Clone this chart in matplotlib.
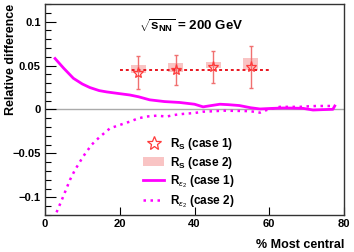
import matplotlib
matplotlib.use("Agg")
import matplotlib.pyplot as plt
from matplotlib.patches import Rectangle
from matplotlib.lines import Line2D
from matplotlib.ticker import MultipleLocator

plt.rcParams["font.family"] = ["Liberation Sans", "DejaVu Sans"]
plt.rcParams["mathtext.fontset"] = "custom"
plt.rcParams["mathtext.rm"] = "Liberation Sans"
plt.rcParams["mathtext.bf"] = "Liberation Sans:bold"
plt.rcParams["mathtext.it"] = "Liberation Sans:italic"

C_MAG = "#ff00ff"
C_STAR = "#ff3b3b"
C_ERR = "#f07070"
C_BOX = "#f9c4c4"
C_FIT = "#e8141e"

# R_S points (case 1 = stars with errors, case 2 = boxes)
cent = [25, 35, 45, 55]
rs1 = [0.042, 0.045, 0.0487, 0.0487]
rs1_err = [0.0185, 0.017, 0.018, 0.024]
rs2 = [0.046, 0.048, 0.0505, 0.0516]
rs2_err = [0.005, 0.0048, 0.003, 0.0065]
fit_x = [20, 60]
fit_y = [0.045, 0.045]

# R_eps2 case 1 (solid)
x1 = [2.7, 5, 7.6, 10, 12, 14.5, 16.5, 20, 22.7, 25, 28, 32, 36, 40, 42.3,
      44.5, 46.8, 49, 52, 55, 57.5, 60.5, 63.7, 66, 69, 71.7, 74, 77, 77.5]
y1 = [0.058, 0.047, 0.0355, 0.029, 0.025, 0.0215, 0.020, 0.018, 0.0165,
      0.0145, 0.011, 0.009, 0.008, 0.006, 0.003, 0.0045, 0.006, 0.0055,
      0.0045, 0.002, 0.0006, 0.0012, 0.0017, 0.0016, 0.0013, -0.0006,
      -0.0002, 0.0002, 0.004]

# R_eps2 case 2 (dotted)
x2 = [3.1, 4.5, 6.7, 8, 10.2, 12.5, 14.7, 17.4, 20, 22.7, 25, 27.2, 29.9,
      32.5, 35, 37, 40, 42.3, 45, 47.7, 50, 53, 55, 57.5, 59.3, 62.8, 65,
      68.2, 70, 72.6, 75, 77.5]
y2 = [-0.117, -0.103, -0.080, -0.069, -0.0536, -0.040, -0.031, -0.0214,
      -0.0176, -0.0138, -0.010, -0.008, -0.007, -0.008, -0.006, -0.005,
      -0.004, -0.0025, -0.002, -0.0013, -0.0015, -0.0017, -0.002, -0.0036,
      -0.0006, 0.003, 0.003, 0.003, 0.0035, 0.004, 0.004, 0.004]

fig = plt.figure(figsize=(3.54, 2.52), dpi=100)
ax = fig.add_axes([0.127, 0.147, 0.845, 0.837])

ax.axhline(0, color="#aaaaaa", lw=1.0, zorder=0)

# case 2 boxes
for c, v, e in zip(cent, rs2, rs2_err):
    ax.add_patch(Rectangle((c - 2, v - e), 4, 2 * e, facecolor=C_BOX,
                           edgecolor="none", zorder=1))

ax.plot(fit_x, fit_y, color=C_FIT, lw=1.4, ls=(0, (1.5, 1.5)), zorder=2)
ax.errorbar(cent, rs1, yerr=rs1_err, fmt="none", ecolor=C_ERR, elinewidth=1.0,
            capsize=1.5, capthick=1.0, zorder=3)
ax.plot(cent, rs1, ls="none", marker="*", ms=8, mfc="none", mec=C_STAR,
        mew=0.9, zorder=4)

ax.plot(x1, y1, color=C_MAG, lw=2.0, zorder=3)
ax.plot(x2, y2, color=C_MAG, lw=1.8, ls=(0, (1, 1.8)), zorder=3)

ax.set_xlim(0, 80)
ax.set_ylim(-0.12, 0.12)
ax.yaxis.set_minor_locator(MultipleLocator(0.01))
ax.set_yticks([-0.1, -0.05, 0, 0.05, 0.1])
ax.set_yticklabels(["\u22120.1", "\u22120.05", "0", "0.05", "0.1"])
ax.set_xticks([0, 20, 40, 60, 80])
ax.set_xticklabels(["0", "20", "40", "60", "80"])
ax.tick_params(axis="both", which="major", direction="in", length=8,
               width=0.8, labelsize=8, pad=3)
ax.tick_params(axis="y", which="minor", direction="in", length=4, width=0.8)
ax.tick_params(axis="x", which="major", length=6)
for lab in ax.get_xticklabels() + ax.get_yticklabels():
    lab.set_fontweight("bold")
for s in ax.spines.values():
    s.set_linewidth(1.0)
    s.set_color("#333333")

ax.set_ylabel("Relative difference", fontsize=9, fontweight="bold",
              loc="top")
ax.yaxis.set_label_coords(-0.094, 1.0)
ax.set_xlabel("% Most central", fontsize=9, fontweight="bold",
              loc="right", labelpad=7)

ax.text(0.315, 0.875, r"$\sqrt{\mathbf{s}_{\mathbf{NN}}}$ = 200 GeV",
        transform=ax.transAxes, fontsize=9.6, fontweight="bold")

handles = [
    Line2D([], [], ls="none", marker="*", ms=10, mfc="none", mec=C_STAR,
           mew=0.9),
    Rectangle((0, 0), 1, 1, facecolor=C_BOX, edgecolor="none"),
    Line2D([], [], color=C_MAG, lw=2.0),
    Line2D([], [], color=C_MAG, lw=1.8, ls=(0, (1, 1.8))),
]
labels = [
    r"$\mathbf{R}_{\mathbf{S}}$ (case 1)",
    r"$\mathbf{R}_{\mathbf{S}}$ (case 2)",
    r"$\mathbf{R}_{\epsilon_2}$ (case 1)",
    r"$\mathbf{R}_{\epsilon_2}$ (case 2)",
]
leg = ax.legend(handles, labels, loc="upper left",
                bbox_to_anchor=(0.30, 0.415), frameon=False,
                prop={"size": 8.5, "weight": "bold"}, handlelength=1.8,
                handletextpad=0.5, labelspacing=0.25, borderpad=0.2)

fig.savefig("out.png", dpi=100)
